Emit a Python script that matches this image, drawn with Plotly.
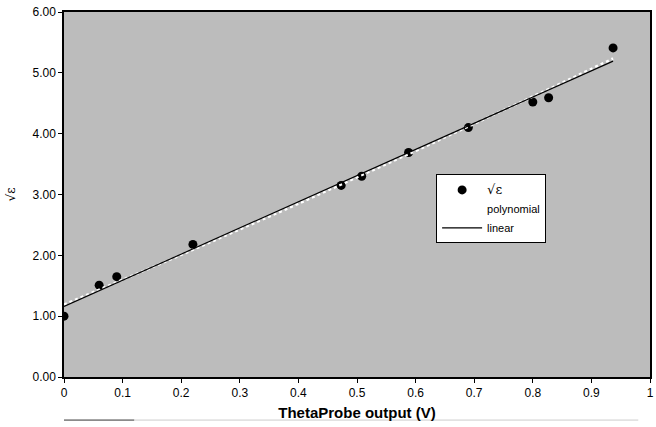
import numpy as np
import plotly.graph_objects as go

# Data
probe_v = [0.00, 0.06, 0.09, 0.22, 0.473, 0.508, 0.588, 0.69, 0.80, 0.827, 0.937]
sqrt_eps = [1.00, 1.51, 1.65, 2.18, 3.15, 3.30, 3.69, 4.10, 4.52, 4.59, 5.41]
x_ticks = [0, 0.1, 0.2, 0.3, 0.4, 0.5, 0.6, 0.7, 0.8, 0.9, 1]
x_tick_text = ["0", "0.1", "0.2", "0.3", "0.4", "0.5", "0.6", "0.7", "0.8", "0.9", "1"]
y_ticks = [0, 1, 2, 3, 4, 5, 6]
y_tick_text = ["0.00", "1.00", "2.00", "3.00", "4.00", "5.00", "6.00"]

xa = np.array(probe_v)
ya = np.array(sqrt_eps)
xf = np.linspace(xa.min(), xa.max(), 100)
lin = np.polyval(np.polyfit(xa, ya, 1), xf)
poly = np.polyval(np.polyfit(xa, ya, 2), xf)

fig = go.Figure()
fig.add_trace(go.Scatter(x=probe_v, y=sqrt_eps, mode="markers",
                         name="<span style='font-family:DejaVu Serif;font-size:13px'>√ε</span>",
                         marker=dict(color="black", size=9, symbol="circle")))
fig.add_trace(go.Scatter(x=xf, y=poly, mode="lines", name="polynomial",
                         line=dict(color="white", width=2.5, dash="dot")))
fig.add_trace(go.Scatter(x=xf, y=lin, mode="lines", name="linear",
                         line=dict(color="black", width=1.2)))

fig.update_layout(
    width=656, height=427,
    margin=dict(l=64, r=2, t=12, b=50),
    paper_bgcolor="white",
    plot_bgcolor="#bcbcbc",
    font=dict(family="Liberation Sans, Arial, sans-serif", size=12, color="black"),
    showlegend=True,
    legend=dict(x=0.635, y=0.555, xanchor="left", yanchor="top",
                bgcolor="white", bordercolor="black", borderwidth=1,
                font=dict(size=11, color="black"), itemwidth=40, tracegroupgap=4),
    xaxis=dict(range=[0, 1], tickvals=x_ticks, ticktext=x_tick_text,
               showgrid=False, zeroline=False, showline=True, linecolor="black",
               linewidth=1.5, mirror=True, ticks="outside", ticklen=4,
               tickcolor="black",
               title=dict(text="<b>ThetaProbe output (V)</b>", font=dict(size=15),
                          standoff=8)),
    yaxis=dict(range=[0, 6], tickvals=y_ticks, ticktext=y_tick_text,
               showgrid=False, zeroline=False, showline=True, linecolor="black",
               linewidth=1.5, mirror=True, ticks="outside", ticklen=4,
               tickcolor="black",
               title=dict(text="√ε", font=dict(size=12, family="DejaVu Serif"),
                          standoff=14)),
    shapes=[dict(type="line", xref="paper", yref="paper", x0=0.0, x1=0.12,
                 y0=-0.118, y1=-0.118, line=dict(color="#333333", width=1)),
            dict(type="line", xref="paper", yref="paper", x0=0.12, x1=0.98,
                 y0=-0.118, y1=-0.118, line=dict(color="#cccccc", width=1))],
)

fig.write_html("out.html",
               config={"displayModeBar": False},
               post_script="document.body.style.margin='0';document.body.style.overflow='hidden';")
